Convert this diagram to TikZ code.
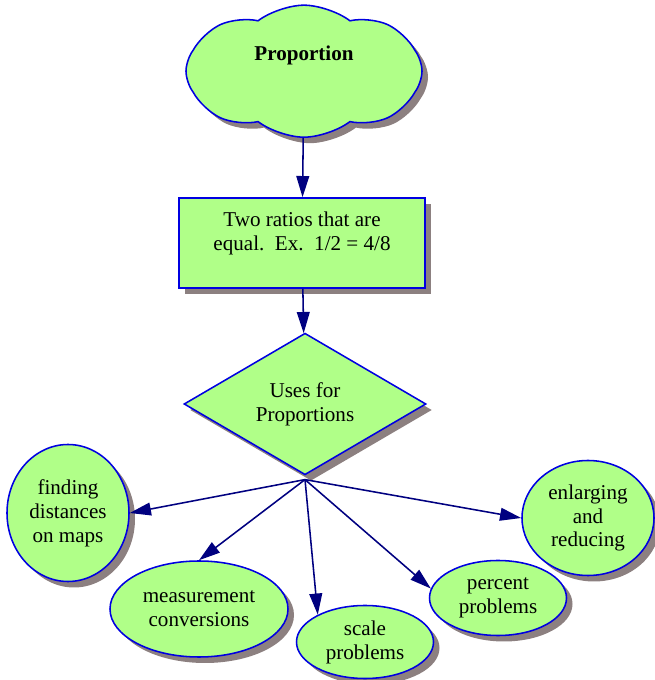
\documentclass[tikz,border=0pt]{standalone}
\usepackage{fontspec}
\setmainfont{Liberation Serif}
\usepackage{xcolor}
\usepackage{tikz}
\usetikzlibrary{arrows.meta,positioning,shapes,shadows}

\definecolor{mapgreen}{RGB}{176,255,136}
\definecolor{mapblue}{RGB}{0,0,225}
\definecolor{mapnavy}{RGB}{0,0,128}
\definecolor{mapshadow}{RGB}{140,128,128}

\begin{document}
\begin{tikzpicture}[
  font=\fontsize{15}{17}\selectfont,
  shade/.style={drop shadow={shadow xshift=0.15cm, shadow yshift=-0.15cm, fill=mapshadow, opacity=1}},
  concept/.style={draw=mapblue, line width=1.1pt, fill=mapgreen, shade, align=center, inner sep=0pt},
  idea/.style={concept, ellipse},
  arrow/.style={-{Triangle[length=0.53cm, width=0.32cm]}, draw=mapnavy, fill=mapnavy, line width=1.1pt}
]
\useasboundingbox (0,0) rectangle (16.375,17);

% Main topic
\node[concept, cloud, cloud puffs=8, cloud puff arc=75, aspect=1.8,
      minimum width=5.9cm, minimum height=3.3cm] (prop) at (7.6,15.22)
      {\textbf{Proportion}\\[0.3cm]};

% Definition
\node[concept, rectangle, minimum width=6.15cm, minimum height=2.25cm] (defn) at (7.55,10.925)
      {Two ratios that are\\equal.\ \ Ex.\ \ 1/2 = 4/8\\[0pt]\mbox{}};

% Decision
\node[concept, diamond, minimum width=6.05cm, minimum height=3.45cm] (uses) at (7.625,6.9)
      {Uses for\\Proportions};
\coordinate (hub) at ([yshift=-0.1cm]uses.south);

% Uses
\node[idea, minimum width=3.05cm, minimum height=3.425cm] (maps) at (1.7,4.175)
      {finding\\distances\\on maps};
\node[idea, minimum width=4.45cm, minimum height=2.4cm] (measure) at (4.975,1.775)
      {measurement\\conversions};
\node[idea, minimum width=3.425cm, minimum height=1.825cm] (scale) at (9.125,0.95)
      {scale\\problems};
\node[idea, minimum width=3.425cm, minimum height=1.875cm] (percent) at (12.45,2.05)
      {percent\\problems};
\node[idea, minimum width=3.3cm, minimum height=2.875cm] (enlarge) at (14.7,4.05)
      {enlarging\\and\\reducing};

% Arrows
\draw[arrow] (prop) -- (defn);
\draw[arrow] (defn) -- (uses);
\draw[arrow] (hub) -- (maps.east);
\draw[arrow] (hub) -- (measure.north);
\draw[arrow] (hub) -- (scale.150);
\draw[arrow] (hub) -- (percent.172);
\draw[arrow] (hub) -- (enlarge.west);

\end{tikzpicture}
\end{document}
